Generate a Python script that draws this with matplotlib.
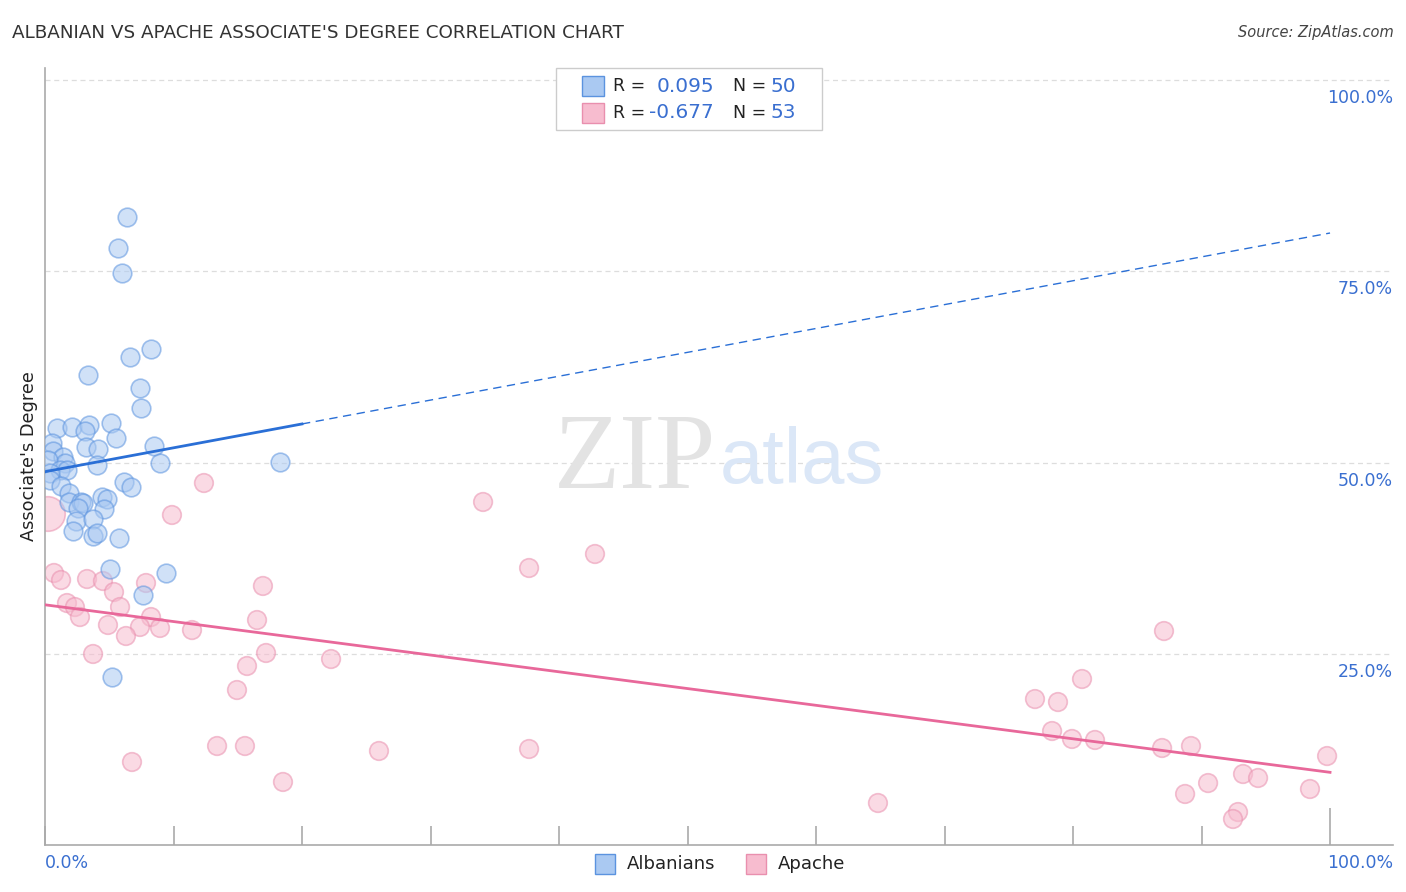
import matplotlib.pyplot as plt
from matplotlib.patches import Rectangle
import numpy as np

# Albanians (blue), values in percent
alb_x = [6.38, 5.68, 5.99, 8.25, 6.61, 3.35, 7.39, 7.47, 0.93, 2.10,
         3.42, 3.11, 5.14, 5.53, 8.48, 3.19, 4.12, 8.95, 4.05, 18.29,
         0.54, 0.62, 1.40, 1.56, 0.23, 1.17, 1.71, 0.39, 0.39, 1.25,
         1.87, 6.15, 6.69, 1.87, 2.80, 2.96, 2.57, 4.44, 4.82, 4.59,
         2.41, 3.74, 2.18, 3.74, 4.05, 5.76, 5.06, 9.42, 7.63, 5.21]
alb_y = [82.09, 78.04, 74.77, 64.84, 63.79, 61.44, 59.74, 57.12, 54.51, 54.64,
         54.90, 54.12, 55.16, 53.20, 52.16, 52.03, 51.76, 49.93, 49.67, 50.07,
         52.55, 51.50, 50.72, 49.93, 50.33, 49.02, 49.02, 48.63, 47.71, 46.93,
         46.01, 47.45, 46.80, 44.84, 44.84, 44.71, 44.05, 45.49, 45.23, 43.92,
         42.35, 42.61, 41.05, 40.39, 40.78, 40.13, 36.08, 35.56, 32.68, 21.96]

# Apache (pink), values in percent
apa_x = [0.70, 1.25, 3.27, 4.51, 7.86, 5.37, 1.71, 2.33, 2.72, 5.84,
         8.25, 4.90, 7.39, 8.95, 11.44, 6.30, 3.74, 12.37, 9.88, 0.23,
         16.96, 16.50, 17.20, 15.72, 14.94, 22.26, 13.39, 15.56, 6.77, 25.99,
         18.52, 34.09, 37.67, 42.80, 37.67, 64.82, 87.08, 80.70, 77.04, 78.83,
         78.37, 79.92, 81.71, 86.93, 89.18, 99.77, 93.23, 94.40, 90.51, 98.44,
         88.72, 92.84, 92.45]
apa_y = [35.56, 34.64, 34.77, 34.51, 34.25, 33.07, 31.63, 31.11, 29.80, 31.11,
         29.80, 28.76, 28.50, 28.37, 28.10, 27.32, 24.97, 47.32, 43.14, 43.27,
         33.86, 29.41, 25.10, 23.40, 20.26, 24.31, 12.94, 12.94, 10.85, 12.29,
         8.24, 44.84, 36.21, 38.04, 12.55, 5.49, 27.97, 21.70, 19.08, 18.69,
         14.90, 13.86, 13.73, 12.68, 12.94, 11.63, 9.28, 8.76, 8.10, 7.32,
         6.67, 4.31, 3.40]
apa_big = 19  # index of the larger marker

# trend lines (value at 0%, value at 100%)
alb_trend = [48.8, 80.0]
apa_trend = [31.4, 9.5]

r_vals = ["0.095", "-0.677"]
n_vals = ["50", "53"]
series_names = ["Albanians", "Apache"]
y_grid = [25, 50, 75, 100]
y_labels = ["25.0%", "50.0%", "75.0%", "100.0%"]

blue_face = '#aac9f2'
blue_edge = '#5b93df'
pink_face = '#f7bccf'
pink_edge = '#e98fae'
blue_line = '#2a6fd6'
pink_line = '#e8689a'
val_color = '#3a6fd0'

W, H = 1406, 892
fig = plt.figure(figsize=(W / 100, H / 100), dpi=100)
ax = fig.add_axes([45 / W, (H - 845) / H, (1393 - 45) / W, (845 - 68) / H])
ax.set_xlim(0, 104.9)
ax.set_ylim(0, 101.57)

for v in y_grid:
    ax.axhline(v, color='#dddddd', lw=0.9, ls=(0, (4, 3)), zorder=0)

sizes = np.full(len(apa_x), 180.0)
sizes[apa_big] = 620
ax.scatter(alb_x, alb_y, s=180, facecolor=blue_face, edgecolor=blue_edge,
           alpha=0.55, lw=1.2, zorder=3)
ax.scatter(apa_x, apa_y, s=sizes, facecolor=pink_face, edgecolor=pink_edge,
           alpha=0.55, lw=1.2, zorder=2)


def trend(c, x):
    return c[0] + (c[1] - c[0]) * x / 100.0


ax.plot([0, 20], [trend(alb_trend, 0), trend(alb_trend, 20)], color=blue_line, lw=2, zorder=4)
ax.plot([20, 100], [trend(alb_trend, 20), trend(alb_trend, 100)], color=blue_line,
        lw=1, ls=(0, (6, 4)), zorder=4)
ax.plot([0, 100], [trend(apa_trend, 0), trend(apa_trend, 100)], color=pink_line, lw=2, zorder=4)

# spines and ticks
for side in ['top', 'right']:
    ax.spines[side].set_visible(False)
for side in ['left', 'bottom']:
    ax.spines[side].set_color('#aaaaaa')
    ax.spines[side].set_linewidth(1.2)
ax.set_yticks([])
ax.set_xticks(np.arange(0, 100, 10))
ax.set_xticks([100], minor=True)
ax.tick_params(axis='x', which='major', direction='in', length=14, color='#aaaaaa',
               width=1.2, labelbottom=False)
ax.tick_params(axis='x', which='minor', direction='in', length=27, color='#aaaaaa',
               width=1.2, labelbottom=False)

for v, lab in zip(y_grid, y_labels):
    ax.annotate(lab, (104.9, v), xytext=(0, -6.5), textcoords='offset points',
                ha='right', va='top', color=val_color, fontsize=12.5)

fig.text(45 / W, 1 - 863 / H, "0.0%", ha='left', va='center', color=val_color, fontsize=12.5)
fig.text(1393 / W, 1 - 863 / H, "100.0%", ha='right', va='center', color=val_color, fontsize=12.5)

ax.set_ylabel("Associate's Degree", fontsize=12.8, color='#222222', labelpad=5)

fig.text(12 / W, 1 - 33 / H, "ALBANIAN VS APACHE ASSOCIATE'S DEGREE CORRELATION CHART",
         ha='left', va='center', fontsize=13.2, color='#333333')
fig.text(1394 / W, 1 - 33 / H, "Source: ZipAtlas.com", ha='right', va='center',
         fontsize=10.5, color='#444444', style='italic')

# watermark
fig.text(635 / W, 1 - 462 / H, "ZIP", ha='center', va='center', fontsize=78,
         family='Liberation Serif', color='#e3e3e3', zorder=0)
fig.text(802 / W, 1 - 462 / H, "atlas", ha='center', va='center', fontsize=56,
         family='Liberation Sans', color='#dbe7f7', zorder=0)

# top legend box
fig.patches.append(Rectangle((556 / W, 1 - 130 / H), 266 / W, 62 / H, transform=fig.transFigure,
                             facecolor='white', edgecolor='#cccccc', lw=1, zorder=5))
rows_y = [86, 113]
faces = [blue_face, pink_face]
edges = [blue_edge, pink_edge]
for ry, fc, ec, rv, nv in zip(rows_y, faces, edges, r_vals, n_vals):
    fig.patches.append(Rectangle((582 / W, 1 - (ry + 10) / H), 22 / W, 20 / H,
                                 transform=fig.transFigure, facecolor=fc, edgecolor=ec,
                                 lw=1, zorder=6))
    fig.text(613 / W, 1 - ry / H, "R =", ha='left', va='center', fontsize=12.5,
             color='#222222', zorder=7)
    fig.text(714 / W, 1 - ry / H, rv, ha='right', va='center', fontsize=14.5,
             color=val_color, zorder=7)
    fig.text(733 / W, 1 - ry / H, "N =", ha='left', va='center', fontsize=12.5,
             color='#222222', zorder=7)
    fig.text(770 / W, 1 - ry / H, nv, ha='left', va='center', fontsize=14.5,
             color=val_color, zorder=7)

# bottom legend
for px, fc, ec, name in zip([595, 746], faces, edges, series_names):
    fig.patches.append(Rectangle((px / W, 1 - 874 / H), 20 / W, 20 / H,
                                 transform=fig.transFigure, facecolor=fc, edgecolor=ec, lw=1))
    fig.text((px + 32) / W, 1 - 864 / H, name, ha='left', va='center', fontsize=13,
             color='#222222')

fig.savefig('out.png', dpi=100)
